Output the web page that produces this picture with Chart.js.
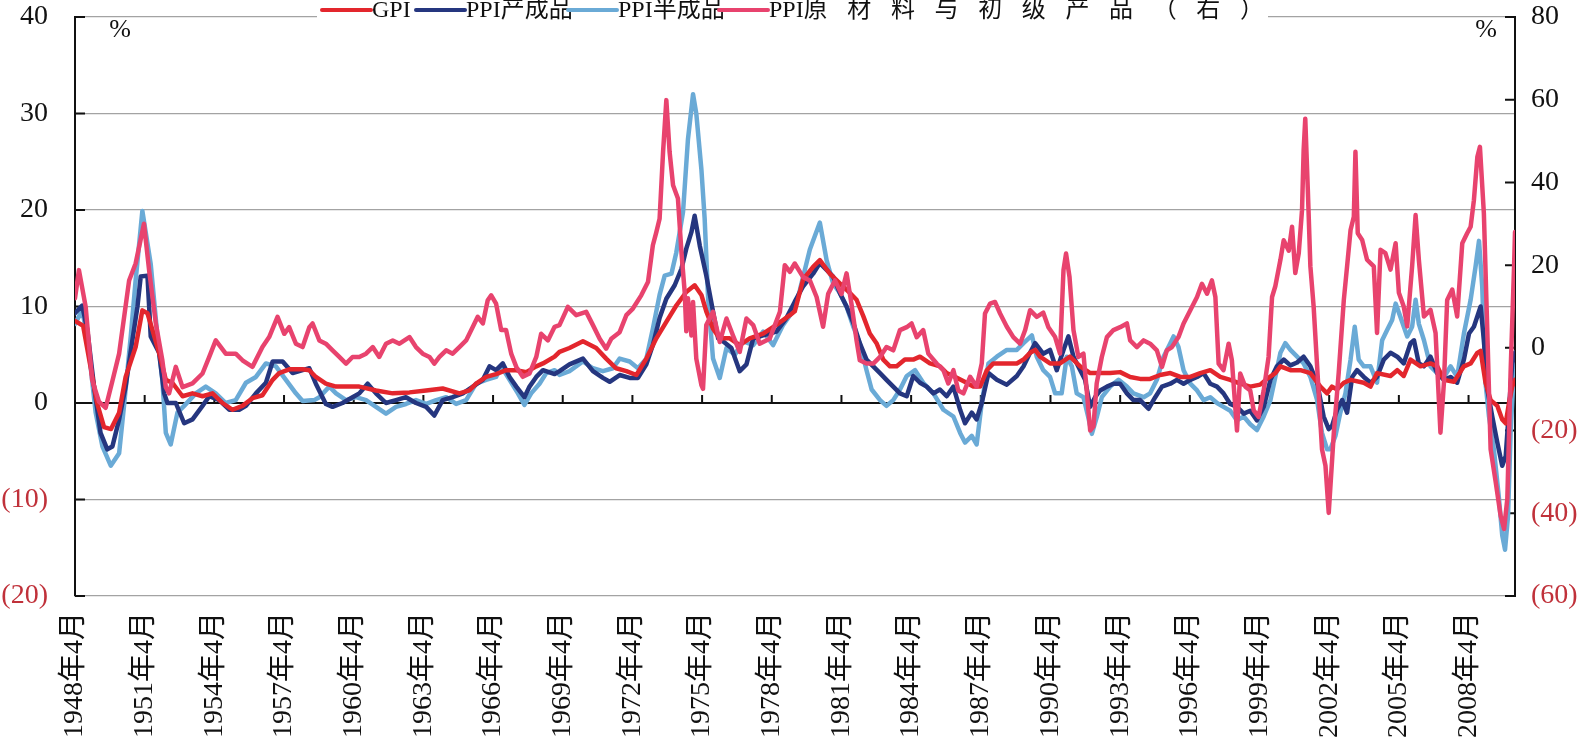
<!DOCTYPE html>
<html>
<head>
<meta charset="utf-8">
<script src="https://cdn.jsdelivr.net/npm/chart.js@4.4.1/dist/chart.umd.min.js"></script>
<style>
  html, body { margin: 0; padding: 0; background: #fff; }
  #wrap { position: relative; width: 1586px; height: 741px; }
</style>
</head>
<body>
<div id="wrap"><canvas id="chart"></canvas></div>
<script>
// x tick labels: April of every third year
const tickYears = [1948, 1951, 1954, 1957, 1960, 1963, 1966, 1969, 1972, 1975, 1978,
                   1981, 1984, 1987, 1990, 1993, 1996, 1999, 2002, 2005, 2008];
const seriesNames = ['GPI', 'PPI产成品', 'PPI半成品', 'PPI原材料与初级产品（右）'];

// [year (decimal), % yoy]
const gpi = [
  [1948.25, 8.5], [1948.6, 8], [1948.9, 4], [1949.2, 0], [1949.5, -2.5], [1949.8, -2.7], [1950.15, -1],
  [1950.43, 2.7], [1950.86, 5.8], [1951.15, 9.6], [1951.37, 9.3], [1951.58, 7.6], [1951.87, 5.2],
  [1952.16, 2.4], [1952.44, 2.1], [1952.88, 0.7], [1953.31, 1], [1953.74, 0.7], [1954.17, 1], [1954.6, 0],
  [1955.03, -0.7], [1955.46, -0.3], [1955.89, 0.5], [1956.32, 0.8], [1956.76, 2.4], [1957.04, 3.1],
  [1957.5, 3.5], [1958.05, 3.5], [1958.34, 3.4], [1958.62, 2.7], [1959.05, 2], [1959.49, 1.7],
  [1960.49, 1.7], [1961.21, 1.3], [1961.93, 1], [1962.65, 1.1], [1963.37, 1.3], [1964.08, 1.5],
  [1964.8, 1], [1965.23, 1.3], [1965.52, 2], [1965.95, 2.7], [1966.38, 3], [1966.81, 3.4], [1967.25, 3.4],
  [1967.68, 3.2], [1968.11, 3.8], [1968.4, 4.1], [1968.9, 4.8], [1969.11, 5.3], [1969.54, 5.7],
  [1970.12, 6.4], [1970.69, 5.7], [1971.12, 4.6], [1971.55, 3.6], [1971.99, 3.3], [1972.42, 2.9],
  [1972.85, 4.6], [1973.28, 6.7], [1973.71, 8.4], [1974.14, 10.1], [1974.57, 11.5], [1974.93, 12.2],
  [1975.22, 11.2], [1975.43, 9.5], [1975.72, 7.7], [1976.01, 6.7], [1976.44, 6.7], [1976.87, 6],
  [1977.3, 6.7], [1977.88, 7.2], [1978.45, 8.1], [1979.03, 9.1], [1979.24, 9.5], [1979.6, 12.8],
  [1980.03, 14.1], [1980.32, 14.8], [1980.75, 13.4], [1981.18, 12.4], [1981.61, 11.4], [1981.9, 10.7],
  [1982.19, 9], [1982.47, 7.2], [1982.76, 6.2], [1983.05, 4.5], [1983.34, 3.8], [1983.63, 3.8],
  [1983.98, 4.5], [1984.34, 4.5], [1984.63, 4.8], [1985.06, 4.1], [1985.49, 3.8], [1985.78, 3.1],
  [1986.07, 2.8], [1986.64, 2.1], [1986.93, 1.7], [1987.22, 1.7], [1987.51, 3.4], [1987.79, 4.1],
  [1988.22, 4.1], [1988.8, 4.1], [1989.09, 4.5], [1989.37, 5.2], [1989.59, 5.5], [1989.8, 4.8],
  [1990.23, 4.1], [1990.66, 4.1], [1991.09, 4.8], [1991.53, 3.8], [1991.96, 3.1], [1992.82, 3.1],
  [1993.25, 3.2], [1993.68, 2.7], [1994.11, 2.5], [1994.54, 2.5], [1994.97, 2.9], [1995.41, 3.1],
  [1995.84, 2.7], [1996.27, 2.7], [1996.7, 3.1], [1997.13, 3.4], [1997.56, 2.7], [1997.99, 2.4],
  [1998.42, 2], [1998.85, 1.7], [1999.28, 1.9], [1999.57, 2.5], [1999.93, 3.1], [2000.15, 3.8],
  [2000.58, 3.4], [2001.01, 3.4], [2001.44, 3.1], [2001.87, 1.7], [2002.16, 1], [2002.37, 1.7],
  [2002.59, 1.4], [2002.88, 2.1], [2003.17, 2.4], [2003.74, 2.1], [2004.03, 1.7], [2004.31, 3.1],
  [2004.89, 2.8], [2005.18, 3.4], [2005.46, 2.8], [2005.75, 4.5], [2006.18, 3.8], [2006.61, 4.1],
  [2006.9, 3.8], [2007.19, 2.4], [2007.62, 2.2], [2008.05, 3.8], [2008.34, 4.1], [2008.63, 5.2],
  [2008.77, 5.4], [2008.98, 2.1], [2009.2, 0.3], [2009.49, -0.3], [2009.7, -1.7], [2009.85, -2.1],
  [2009.99, 0], [2010.13, 1.7], [2010.25, 2.4]
];

const ppiFinished = [
  [1948.25, 9.3], [1948.56, 10.1], [1948.78, 7.6], [1949.07, 1.7], [1949.35, -3.1], [1949.64, -4.8],
  [1949.86, -4.5], [1950.15, -1.7], [1950.43, 1.7], [1950.72, 6.5], [1950.94, 10], [1951.08, 13.1],
  [1951.37, 13.2], [1951.51, 6.9], [1951.87, 5.2], [1952.09, 1], [1952.23, 0], [1952.59, 0],
  [1952.95, -2.1], [1953.31, -1.7], [1953.74, -0.3], [1954.03, 0.7], [1954.46, 0.3], [1954.89, -0.7],
  [1955.32, -0.7], [1955.61, -0.3], [1956.04, 1], [1956.47, 2.1], [1956.76, 4.3], [1957.19, 4.3],
  [1957.62, 3.1], [1958.05, 3.4], [1958.34, 3.6], [1958.62, 2], [1959.05, -0.1], [1959.34, -0.4],
  [1959.77, 0], [1960.2, 0.6], [1960.49, 1], [1960.85, 2], [1961.21, 1], [1961.64, 0], [1962.07, 0.3],
  [1962.5, 0.6], [1962.93, 0], [1963.37, -0.4], [1963.72, -1.3], [1964.08, 0.3], [1964.51, 0.6],
  [1964.95, 1], [1965.38, 1.7], [1965.81, 2.4], [1966.1, 3.8], [1966.38, 3.4], [1966.67, 4.1],
  [1966.96, 2.7], [1967.25, 1.7], [1967.6, 0.6], [1967.82, 1.7], [1968.11, 2.7], [1968.4, 3.4],
  [1968.9, 3], [1969.11, 3.3], [1969.54, 4], [1970.12, 4.6], [1970.55, 3.3], [1970.98, 2.6],
  [1971.27, 2.2], [1971.7, 2.9], [1972.13, 2.6], [1972.49, 2.6], [1972.85, 4], [1973.13, 6],
  [1973.42, 8.8], [1973.71, 10.8], [1974.07, 12.2], [1974.36, 13.9], [1974.57, 16], [1974.79, 17.7],
  [1974.93, 19.4], [1975.15, 16.3], [1975.43, 13.2], [1975.72, 9.5], [1975.94, 6.7], [1976.15, 6.4],
  [1976.51, 5.7], [1976.87, 3.3], [1977.16, 4], [1977.45, 6.7], [1977.88, 7], [1978.45, 7.4],
  [1978.88, 8.8], [1979.24, 10.5], [1979.6, 12.1], [1980.03, 13.4], [1980.32, 14.5], [1980.61, 13.8],
  [1980.89, 13.1], [1981.18, 11.4], [1981.47, 10], [1981.76, 8.3], [1982.04, 6.2], [1982.33, 4.5],
  [1982.62, 3.8], [1982.91, 3.1], [1983.19, 2.4], [1983.48, 1.7], [1983.77, 1], [1984.06, 0.7],
  [1984.34, 2.8], [1984.63, 2.1], [1984.92, 1.7], [1985.21, 1], [1985.49, 1.4], [1985.78, 0.7],
  [1986.07, 1.7], [1986.36, -0.7], [1986.57, -2.1], [1986.86, -1], [1987.07, -1.7], [1987.29, 0],
  [1987.58, 3.1], [1987.94, 2.4], [1988.37, 1.9], [1988.8, 2.8], [1989.09, 3.8], [1989.37, 5.2],
  [1989.59, 6.2], [1989.94, 5.1], [1990.23, 5.5], [1990.52, 3.4], [1990.81, 5.5], [1991.02, 6.9],
  [1991.24, 4.8], [1991.53, 3.4], [1991.74, 2.4], [1991.96, -0.4], [1992.17, 0.6], [1992.39, 1.3],
  [1992.68, 1.7], [1992.96, 2], [1993.25, 2], [1993.54, 1], [1993.82, 0.3], [1994.11, 0.3],
  [1994.47, -0.6], [1994.76, 0.6], [1995.05, 1.7], [1995.41, 2], [1995.69, 2.4], [1995.98, 2],
  [1996.27, 2.4], [1996.56, 2.7], [1996.84, 3.1], [1997.13, 2], [1997.42, 1.7], [1997.7, 1],
  [1997.99, -0.1], [1998.28, -0.4], [1998.57, -1.1], [1998.85, -0.8], [1999.14, -1.8], [1999.43, -0.4],
  [1999.72, 2.4], [2000, 3.8], [2000.29, 4.5], [2000.58, 3.9], [2000.87, 4.2], [2001.15, 4.8],
  [2001.44, 3.8], [2001.73, 2.1], [2002.01, -1.4], [2002.23, -2.7], [2002.37, -2.4], [2002.59, -0.7],
  [2002.81, 0.3], [2003.02, -1], [2003.24, 2.7], [2003.45, 3.4], [2003.74, 2.7], [2004.03, 2.1],
  [2004.31, 2.7], [2004.6, 4.5], [2004.89, 5.2], [2005.18, 4.8], [2005.46, 4.1], [2005.75, 6.2],
  [2005.9, 6.5], [2006.11, 4.1], [2006.33, 3.8], [2006.61, 4.8], [2006.9, 3.1], [2007.19, 2.4],
  [2007.48, 2.7], [2007.76, 2.1], [2008.05, 4.5], [2008.27, 7.2], [2008.48, 7.9], [2008.77, 10],
  [2008.91, 6.5], [2009.06, 1.4], [2009.27, -1.4], [2009.49, -4.1], [2009.7, -6.5], [2009.85, -5.5],
  [2009.99, -0.7], [2010.13, 4.1], [2010.25, 5.2]
];

const ppiIntermediate = [
  [1948.25, 8.2], [1948.56, 9.6], [1948.78, 6.9], [1949.14, -1], [1949.43, -4.5], [1949.79, -6.5],
  [1950.15, -5.2], [1950.36, -0.3], [1950.65, 6.9], [1950.86, 12.7], [1951.15, 19.9], [1951.51, 14.4],
  [1951.8, 6.9], [1952.01, 2.4], [1952.16, -3.1], [1952.37, -4.3], [1952.66, -1], [1952.95, -0.3],
  [1953.45, 1], [1953.88, 1.7], [1954.31, 1], [1954.74, 0], [1955.17, 0.3], [1955.61, 2.1],
  [1956.04, 2.7], [1956.47, 4.1], [1956.9, 3.8], [1957.33, 2.4], [1957.76, 1], [1958.05, 0.2],
  [1958.55, 0.3], [1958.77, 0.6], [1959.2, 1.7], [1959.49, 1], [1959.92, 0.3], [1960.35, 0.6],
  [1960.78, 0.3], [1961.21, -0.4], [1961.64, -1.1], [1962.07, -0.4], [1962.5, -0.1], [1962.93, 0.3],
  [1963.37, -0.1], [1963.8, 0.3], [1964.23, 0.6], [1964.66, -0.1], [1965.09, 0.3], [1965.52, 2],
  [1965.95, 2.4], [1966.38, 2.7], [1966.6, 3.8], [1966.96, 2.4], [1967.32, 1], [1967.6, -0.2],
  [1967.89, 1], [1968.25, 2], [1968.54, 3.1], [1968.9, 3.4], [1969.11, 2.9], [1969.54, 3.3],
  [1970.12, 4.3], [1970.55, 3.6], [1970.98, 3.3], [1971.41, 3.6], [1971.7, 4.6], [1972.13, 4.3],
  [1972.49, 3.6], [1972.85, 4.6], [1973.13, 7.7], [1973.42, 11.2], [1973.64, 13.2], [1973.93, 13.4],
  [1974.14, 15.6], [1974.43, 19.8], [1974.64, 27.3], [1974.86, 32], [1975, 30], [1975.22, 24.2],
  [1975.36, 19.1], [1975.51, 10.8], [1975.72, 4.6], [1976.01, 2.6], [1976.3, 5.7], [1976.66, 5],
  [1977.01, 6.4], [1977.45, 6], [1977.88, 7.4], [1978.31, 6], [1978.74, 8.1], [1979.24, 9.8],
  [1979.46, 11.7], [1979.89, 15.9], [1980.32, 18.7], [1980.61, 14.8], [1980.89, 12.4], [1981.18, 11.4],
  [1981.47, 10], [1981.76, 7.9], [1982.04, 6.2], [1982.33, 3.4], [1982.55, 1.4], [1982.91, 0.3],
  [1983.19, -0.3], [1983.48, 0.3], [1983.77, 1.4], [1984.06, 2.8], [1984.42, 3.4], [1984.77, 2.1],
  [1985.21, 1], [1985.64, -0.7], [1986.07, -1.4], [1986.36, -3.1], [1986.57, -4.1], [1986.86, -3.4],
  [1987.07, -4.3], [1987.29, 0], [1987.58, 4.1], [1987.94, 4.8], [1988.37, 5.5], [1988.8, 5.5],
  [1989.09, 6.2], [1989.45, 7], [1989.66, 4.8], [1989.94, 3.4], [1990.23, 2.7], [1990.45, 1],
  [1990.73, 1], [1990.95, 4.8], [1991.17, 3.8], [1991.38, 1], [1991.67, 0.6], [1991.88, -1.5],
  [1992.03, -3.2], [1992.24, -1.5], [1992.46, 0.6], [1992.82, 1.7], [1993.18, 2.4], [1993.54, 1.7],
  [1993.82, 1], [1994.26, 0.6], [1994.54, 1], [1994.83, 2.4], [1995.12, 4.8], [1995.41, 6.2],
  [1995.55, 6.9], [1995.76, 5.8], [1995.98, 3.4], [1996.27, 2], [1996.56, 1.3], [1996.84, 0.3],
  [1997.13, 0.6], [1997.42, 0], [1997.7, -0.4], [1997.99, -0.8], [1998.28, -1.8], [1998.57, -1.4],
  [1998.85, -2.2], [1999.14, -2.8], [1999.43, -1.4], [1999.72, 0.3], [1999.93, 2.7], [2000.15, 5.2],
  [2000.36, 6.2], [2000.58, 5.5], [2000.87, 4.8], [2001.15, 4.1], [2001.44, 2.7], [2001.73, 0.3],
  [2001.94, -3.1], [2002.16, -4.8], [2002.3, -4.8], [2002.52, -3.4], [2002.73, -1], [2002.95, 1],
  [2003.17, 4.5], [2003.35, 7.9], [2003.52, 4.5], [2003.74, 3.8], [2004.03, 3.8], [2004.31, 2.1],
  [2004.53, 6.5], [2004.75, 7.6], [2004.96, 8.6], [2005.11, 10.3], [2005.32, 8.9], [2005.61, 6.9],
  [2005.82, 7.9], [2005.97, 10.7], [2006.11, 8.2], [2006.33, 6.5], [2006.61, 3.8], [2006.9, 3.1],
  [2007.19, 2.7], [2007.48, 3.8], [2007.76, 2.7], [2008.05, 7.2], [2008.34, 10.7], [2008.55, 14.1],
  [2008.7, 16.8], [2008.84, 12], [2008.98, 2.1], [2009.13, -1.4], [2009.34, -4.8], [2009.56, -9.9],
  [2009.7, -13.7], [2009.82, -15.2], [2009.95, -11.7], [2010.06, -3.1], [2010.21, 3.8], [2010.25, 5.2]
];

// right axis
const ppiRaw = [
  [1948.25, 12], [1948.42, 18.8], [1948.71, 9.9], [1948.99, -7.8], [1949.28, -13], [1949.57, -14.5],
  [1949.86, -8], [1950.15, -1.4], [1950.58, 16.3], [1950.86, 20.4], [1951.22, 30], [1951.44, 18.8],
  [1951.73, 5.9], [1952.01, -3], [1952.16, -9.5], [1952.3, -11], [1952.59, -4.6], [1952.88, -9.5],
  [1953.31, -8.6], [1953.74, -6.2], [1954.03, -2.2], [1954.31, 1.8], [1954.74, -1.4], [1955.17, -1.4],
  [1955.46, -3], [1955.89, -4.6], [1956.32, 0.2], [1956.61, 2.6], [1956.97, 7.5], [1957.26, 3.4],
  [1957.47, 5], [1957.76, 1], [1958.05, 0.2], [1958.34, 5], [1958.48, 5.9], [1958.77, 1.8],
  [1959.05, 1], [1959.34, -0.6], [1959.63, -2.2], [1959.92, -3.8], [1960.2, -2.2], [1960.49, -2.2],
  [1960.78, -1.4], [1961.07, 0.2], [1961.35, -2.2], [1961.64, 1], [1961.93, 1.8], [1962.22, 1],
  [1962.65, 2.6], [1962.93, 0.2], [1963.22, -1.4], [1963.51, -2.2], [1963.72, -3.8], [1963.94, -2.2],
  [1964.23, -0.6], [1964.51, -1.4], [1964.8, 0.2], [1965.09, 1.8], [1965.38, 5.1], [1965.59, 7.5],
  [1965.81, 5.9], [1966.02, 11.5], [1966.17, 12.7], [1966.38, 10.7], [1966.6, 4.3], [1966.81, 4.3],
  [1967.03, -1.4], [1967.25, -4.6], [1967.53, -7], [1967.82, -6.2], [1968.11, -2.2], [1968.32, 3.4],
  [1968.61, 1.8], [1968.9, 5.1], [1969.11, 5.5], [1969.47, 9.9], [1969.83, 7.9], [1970.26, 8.7],
  [1970.55, 5.5], [1970.84, 2.2], [1971.12, -0.2], [1971.34, 2.2], [1971.7, 3.8], [1971.99, 7.9],
  [1972.27, 9.5], [1972.63, 12.7], [1972.92, 15.9], [1973.13, 24.8], [1973.28, 28], [1973.42, 31.2],
  [1973.57, 47.4], [1973.71, 59.9], [1973.85, 47.4], [1974, 39.3], [1974.21, 36.1], [1974.36, 23.2],
  [1974.5, 13.5], [1974.57, 4], [1974.64, 12], [1974.79, 3], [1974.86, 11.1], [1975, -2.6],
  [1975.22, -9], [1975.29, -9.9], [1975.43, 5.5], [1975.72, 8.7], [1976.01, 1.4], [1976.3, 7.1],
  [1976.58, 3], [1976.87, -1], [1977.16, 7.1], [1977.45, 5.5], [1977.73, 1], [1978.16, 2.2],
  [1978.6, 8.7], [1978.81, 20], [1979.03, 18.4], [1979.24, 20.4], [1979.6, 17.1], [1979.89, 16.3],
  [1980.18, 12.3], [1980.46, 5.1], [1980.68, 13.1], [1980.97, 16.3], [1981.25, 13], [1981.47, 18],
  [1981.68, 10.7], [1981.9, 1.8], [1982.04, -3], [1982.33, -3.8], [1982.62, -3.8], [1982.91, -2.2],
  [1983.19, 0.2], [1983.48, -0.6], [1983.77, 4.3], [1984.06, 5], [1984.27, 5.9], [1984.49, 2.6],
  [1984.77, 4.3], [1984.99, -1.4], [1985.35, -3.8], [1985.64, -5.4], [1985.85, -8.6], [1986.07, -5.4],
  [1986.28, -10.3], [1986.5, -11], [1986.79, -7], [1987.07, -9.4], [1987.29, -3.8], [1987.43, 8.3],
  [1987.65, 10.7], [1987.86, 11.1], [1988.08, 8.3], [1988.37, 5.1], [1988.65, 2.6], [1988.94, 1],
  [1989.16, 4.3], [1989.37, 9.1], [1989.66, 7.5], [1989.94, 8.5], [1990.16, 5], [1990.45, 2.6],
  [1990.66, -1.4], [1990.81, 18.8], [1990.92, 22.8], [1991.07, 17.1], [1991.24, 4.3], [1991.45, -2.2],
  [1991.67, -1.4], [1991.81, -10.3], [1991.96, -20], [1992.1, -19], [1992.24, -8.6], [1992.46, -2.2],
  [1992.68, 2.6], [1992.96, 4.3], [1993.25, 5], [1993.54, 5.9], [1993.68, 1.8], [1993.97, 0.2],
  [1994.26, 1.8], [1994.54, 1], [1994.83, -0.6], [1995.05, -4.6], [1995.26, -0.6], [1995.48, 0.2],
  [1995.76, 2.6], [1995.98, 5.9], [1996.27, 9.1], [1996.56, 12.3], [1996.77, 15.5], [1996.99, 13.1],
  [1997.2, 16.3], [1997.35, 12.3], [1997.49, -3.8], [1997.7, -5.4], [1997.92, 1], [1998.06, -3],
  [1998.28, -20], [1998.42, -6.2], [1998.64, -9.4], [1998.85, -10.3], [1999, -15.1], [1999.21, -16.7],
  [1999.43, -10.3], [1999.64, -2.2], [1999.79, 12.3], [1999.93, 14.9], [2000.15, 21.3], [2000.29, 26],
  [2000.51, 23.5], [2000.65, 29.3], [2000.79, 18.1], [2000.94, 22.9], [2001.08, 33.3], [2001.15, 47.8],
  [2001.22, 55.4], [2001.33, 38.2], [2001.44, 19.7], [2001.58, 10], [2001.73, -4.4], [2001.94, -24.5],
  [2002.09, -28.5], [2002.23, -39.9], [2002.45, -20.5], [2002.66, -6], [2002.88, 11.6], [2003.02, 19.7],
  [2003.17, 28.5], [2003.31, 31.7], [2003.38, 47.4], [2003.48, 27.7], [2003.67, 26.1], [2003.88, 21.3],
  [2004.17, 19.7], [2004.31, 3.6], [2004.46, 23.7], [2004.67, 22.9], [2004.89, 18.9], [2005.11, 25.3],
  [2005.25, 13.3], [2005.46, 10], [2005.61, 5.2], [2005.82, 19.7], [2005.97, 32.1], [2006.11, 21.3],
  [2006.33, 7.6], [2006.61, 9.2], [2006.83, 3.6], [2006.97, -12.4], [2007.04, -20.5], [2007.19, -8.4],
  [2007.33, 11.6], [2007.55, 14.1], [2007.76, 7.6], [2007.98, 25.3], [2008.19, 27.7], [2008.34, 29.3],
  [2008.48, 35.7], [2008.63, 46.2], [2008.74, 48.6], [2008.91, 32.5], [2009.06, 3.6], [2009.2, -24.5],
  [2009.42, -32.5], [2009.63, -40.6], [2009.78, -43.8], [2009.92, -36.5], [2010.06, -6], [2010.21, 19.7],
  [2010.25, 28]
];

const colors = ['#e3262d', '#25367f', '#6aaad6', '#e8436e'];
const negColor = '#c0313a';
const serif = '"Liberation Serif", "Times New Roman", "Noto Sans CJK SC", serif';

// legend layout (start x of each item, right end of the last label)
const legendStarts = [321, 415, 567, 718];
const legendEnd = 1264;

const toPoints = arr => arr.map(([x, y]) => ({ x, y }));

// "PPI" kept tight, the Chinese part spread to fill the width
function spacedText(ctx, text, x, y, width) {
  const head = text.match(/^[A-Za-z]+/)[0];
  ctx.fillText(head, x, y);
  const hx = x + ctx.measureText(head).width;
  const chars = Array.from(text.slice(head.length));
  const natural = ctx.measureText(chars.join('')).width;
  const gap = chars.length > 1 ? Math.max(0, (width - (hx - x) - natural) / (chars.length - 1)) : 0;
  let cx = hx;
  chars.forEach(ch => {
    ctx.fillText(ch, cx, y);
    cx += ctx.measureText(ch).width + gap;
  });
}

// inward tick marks, zero-line ticks, unit labels and the legend box
const decorPlugin = {
  id: 'decor',
  beforeDatasetsDraw(chart) {
    const { ctx, chartArea } = chart;
    const x = chart.scales.x, y = chart.scales.y, y1 = chart.scales.y1;
    ctx.save();
    ctx.strokeStyle = '#111';
    ctx.lineWidth = 2;
    ctx.beginPath();
    y.ticks.forEach(t => {
      const py = y.getPixelForValue(t.value);
      ctx.moveTo(chartArea.left, py); ctx.lineTo(chartArea.left + 10, py);
    });
    y1.ticks.forEach(t => {
      const py = y1.getPixelForValue(t.value);
      ctx.moveTo(chartArea.right - 10, py); ctx.lineTo(chartArea.right, py);
    });
    const zy = y.getPixelForValue(0);
    tickYears.forEach(yr => {
      const px = x.getPixelForValue(yr + 0.25);
      ctx.moveTo(px, zy); ctx.lineTo(px, zy - 8);
    });
    ctx.stroke();
    ctx.restore();
  },
  afterDraw(chart) {
    const { ctx, chartArea } = chart;
    ctx.save();
    ctx.fillStyle = '#111';
    ctx.font = '26px ' + serif;
    ctx.textBaseline = 'middle';
    ctx.textAlign = 'center';
    ctx.fillText('%', chartArea.left + 45, chartArea.top + 13);
    ctx.fillText('%', chartArea.right - 29, chartArea.top + 13);

    // legend
    ctx.font = '24px ' + serif;
    ctx.textAlign = 'left';
    const ly = 10;
    ctx.fillStyle = '#fff';
    ctx.fillRect(legendStarts[0] - 4, 0, legendEnd - legendStarts[0] + 8, 25);
    chart.data.datasets.forEach((d, i) => {
      const lx = legendStarts[i];
      ctx.strokeStyle = d.borderColor;
      ctx.lineWidth = 4;
      ctx.lineCap = 'round';
      ctx.beginPath();
      ctx.moveTo(lx + 1, ly); ctx.lineTo(lx + 50, ly);
      ctx.stroke();
      ctx.fillStyle = '#111';
      if (i === chart.data.datasets.length - 1) {
        spacedText(ctx, d.label, lx + 51, ly + 1, legendEnd - lx - 51);
      } else {
        ctx.fillText(d.label, lx + 51, ly + 1);
      }
    });
    ctx.restore();
  }
};

// keep tick labels from pushing the plot area down
const noLabelPadding = s => { s.paddingTop = 0; s.paddingBottom = 0; };

new Chart(document.getElementById('chart'), {
  type: 'line',
  data: {
    datasets: [
      { label: seriesNames[0], data: toPoints(gpi), borderColor: colors[0], yAxisID: 'y', order: 2 },
      { label: seriesNames[1], data: toPoints(ppiFinished), borderColor: colors[1], yAxisID: 'y', order: 3 },
      { label: seriesNames[2], data: toPoints(ppiIntermediate), borderColor: colors[2], yAxisID: 'y', order: 4 },
      { label: seriesNames[3], data: toPoints(ppiRaw), borderColor: colors[3], yAxisID: 'y1', order: 1 }
    ]
  },
  options: {
    responsive: true,
    maintainAspectRatio: false,
    animation: false,
    layout: { padding: { top: 17, left: 0, right: 0, bottom: 0 } },
    elements: {
      point: { radius: 0 },
      line: { borderWidth: 4.5, tension: 0, borderJoinStyle: 'round', borderCapStyle: 'round' }
    },
    plugins: { legend: { display: false }, tooltip: { enabled: false } },
    scales: {
      x: {
        type: 'linear',
        min: 1948.25,
        max: 2010.25,
        afterBuildTicks: s => { s.ticks = tickYears.map(v => ({ value: v + 0.25 })); },
        afterFit: s => { s.height = 145; s.paddingLeft = 0; s.paddingRight = 0; },
        grid: { display: false, drawTicks: false },
        border: { display: false },
        ticks: {
          autoSkip: false,
          minRotation: 90,
          maxRotation: 90,
          padding: 16,
          color: '#111',
          font: { family: serif, size: 28 },
          callback: v => Math.round(v - 0.25) + '年4月'
        }
      },
      y: {
        position: 'left',
        min: -20,
        max: 40,
        afterFit: s => { s.width = 75; noLabelPadding(s); },
        ticks: {
          stepSize: 10,
          padding: 27,
          font: { family: serif, size: 28 },
          color: c => c.tick.value < 0 ? negColor : '#111',
          callback: v => v < 0 ? '(' + (-v) + ')' : String(v)
        },
        grid: {
          drawTicks: false,
          color: c => c.tick.value === 0 ? '#111' : '#a3a3a3',
          lineWidth: c => c.tick.value === 0 ? 2 : 1.3
        },
        border: { color: '#111', width: 2 }
      },
      y1: {
        position: 'right',
        min: -60,
        max: 80,
        afterFit: s => { s.width = 71; noLabelPadding(s); },
        ticks: {
          stepSize: 20,
          padding: 16,
          font: { family: serif, size: 28 },
          color: c => c.tick.value < 0 ? negColor : '#111',
          callback: v => v < 0 ? '(' + (-v) + ')' : String(v)
        },
        grid: { drawOnChartArea: false, drawTicks: false },
        border: { color: '#111', width: 2 }
      }
    }
  },
  plugins: [decorPlugin]
});
</script>
</body>
</html>
